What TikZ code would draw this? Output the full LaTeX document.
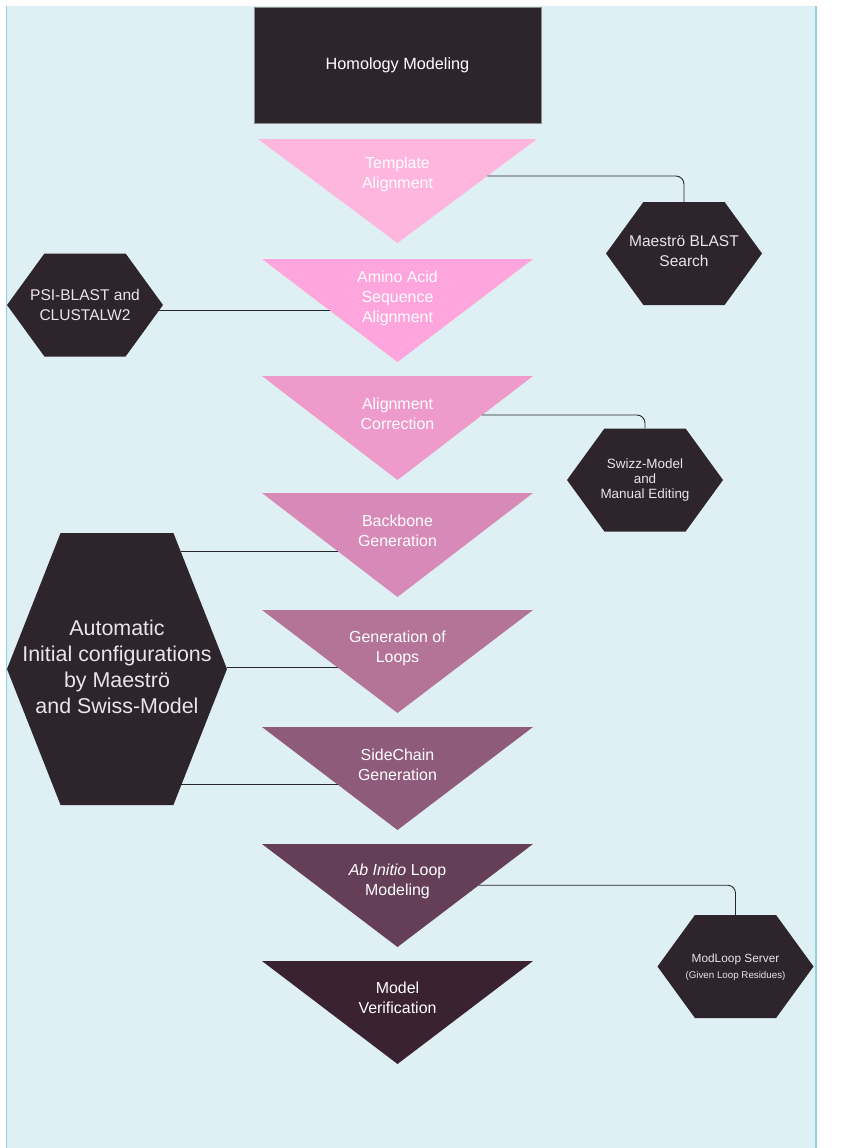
\documentclass[tikz,border=0pt]{standalone}
\usepackage{fontspec}
\setmainfont{Liberation Sans}
\usetikzlibrary{calc,shapes.symbols}
\definecolor{bg}{HTML}{DEF0F4}
\definecolor{rim}{HTML}{8CD3DC}
\definecolor{dark}{HTML}{2E242B}
\definecolor{hextext}{HTML}{E8E6E8}
\definecolor{stepA}{HTML}{FFB6DE}
\definecolor{stepB}{HTML}{FFA5DE}
\definecolor{stepC}{HTML}{EE9BCB}
\definecolor{stepD}{HTML}{D78AB8}
\definecolor{stepE}{HTML}{B47498}
\definecolor{stepF}{HTML}{8F5B7B}
\definecolor{stepG}{HTML}{643F57}
\definecolor{stepH}{HTML}{3A2230}
\tikzset{
  link/.style={line width=0.9pt, draw=black!85, rounded corners=8pt},
  hexbox/.style={signal, signal to=east and west, signal pointer angle=108,
    fill=dark, inner sep=0pt, minimum width=156bp, minimum height=103bp},
  hexlab/.style={text=hextext, align=center, font=\fontsize{15.6}{20}\selectfont},
  steplab/.style={text=white, align=center, font=\fontsize{16}{20}\selectfont}
}

\begin{document}
\begin{tikzpicture}[x=1bp,y=-1bp]
  \useasboundingbox (0,0) rectangle (860,1148);
  \fill[bg] (6,6) rectangle (817,1148);
  \draw[rim, line width=1.2pt] (6.6,6) -- (6.6,1148);
  \draw[rim, line width=1.2pt] (816,6) -- (816,1148);

  \node[fill=dark, draw=black!45, line width=0.6pt, minimum width=287bp,
    minimum height=116bp, text=white, font=\fontsize{16.3}{20}\selectfont]
    (head) at (397.5,65) {Homology Modeling};

  % the eight steps, top to bottom
  \fill[stepA] (258,139) coordinate (a1) -- (537,139) coordinate (b1) -- (397.5,243) coordinate (c1) -- cycle;
  \fill[stepB] (262,259) coordinate (a2) -- (533,259) coordinate (b2) -- (397.5,362) coordinate (c2) -- cycle;
  \fill[stepC] (262,376) coordinate (a3) -- (533,376) coordinate (b3) -- (397.5,480) coordinate (c3) -- cycle;
  \fill[stepD] (262,493) coordinate (a4) -- (533,493) coordinate (b4) -- (397.5,597) coordinate (c4) -- cycle;
  \fill[stepE] (262,610) coordinate (a5) -- (533,610) coordinate (b5) -- (397.5,713) coordinate (c5) -- cycle;
  \fill[stepF] (262,727) coordinate (a6) -- (533,727) coordinate (b6) -- (397.5,830) coordinate (c6) -- cycle;
  \fill[stepG] (262,844) coordinate (a7) -- (533,844) coordinate (b7) -- (397.5,947) coordinate (c7) -- cycle;
  \fill[stepH] (262,961) coordinate (a8) -- (533,961) coordinate (b8) -- (397.5,1064) coordinate (c8) -- cycle;

  \node[steplab] (tmpl) at (397.5,174) {Template\\Alignment};
  \node[steplab] (amino) at (397.5,298) {Amino Acid\\Sequence\\Alignment};
  \node[steplab] (corr) at (397.5,414) {Alignment\\Correction};
  \node[steplab] (backbone) at (397.5,531) {Backbone\\Generation};
  \node[steplab] (loops) at (397.5,648) {Generation of\\Loops};
  \node[steplab] (side) at (397.5,765) {SideChain\\Generation};
  \node[steplab] (abinit) at (397.5,881) {{\itshape Ab Initio} Loop\\Modeling};
  \node[steplab] (verif) at (397.5,998) {Model\\Verification};

  % tools
  \node[hexbox] (blast) at (684,253.5) {};
  \node[hexlab] (blasttxt) at (684,251) {Maeströ BLAST\\Search};
  \node[hexbox] (psi) at (85,305) {};
  \node[hexlab] (psitxt) at (85,305) {PSI-BLAST and\\CLUSTALW2};
  \node[hexbox] (swiss) at (645,480) {};
  \node[hexlab, font=\fontsize{13.5}{15.5}\selectfont] (swisstxt) at (645,480)
    {Swizz-Model\\and\\Manual Editing};
  \node[hexbox, signal pointer angle=137, minimum width=220bp, minimum height=272bp]
    (auto) at (117,669) {};
  \node[hexlab, font=\fontsize{21.5}{26}\selectfont] (autotxt) at (117,667)
    {Automatic\\Initial configurations\\by Maeströ\\and Swiss-Model};
  \node[hexbox] (modloop) at (735.5,966.5) {};
  \node[hexlab, font=\fontsize{11.9}{16}\selectfont] (modlooptxt) at (735.5,967)
    {ModLoop Server\\{\fontsize{9.8}{12}\selectfont (Given Loop Residues)}};

  \coordinate (t1e) at ($(b1)!0.356!(c1)$);
  \coordinate (t2w) at ($(a2)!0.5!(c2)$);
  \coordinate (t3e) at ($(b3)!0.375!(c3)$);
  \coordinate (t4w) at ($(a4)!0.56!(c4)$);
  \coordinate (t5w) at ($(a5)!0.56!(c5)$);
  \coordinate (t6w) at ($(a6)!0.56!(c6)$);
  \coordinate (t7e) at ($(b7)!0.40!(c7)$);

  \draw[link] (t1e) -| (blast.north);
  \draw[link] (t2w) -- (t2w -| psi.-5);
  \draw[link] (t3e) -| (swiss.north);
  \draw[link] (t4w) -- (t4w -| auto.61);
  \draw[link] (t5w) -- (t5w -| auto.east);
  \draw[link] (t6w) -- (t6w -| auto.-61);
  \draw[link] (t7e) -| (modloop.north);
\end{tikzpicture}
\end{document}
